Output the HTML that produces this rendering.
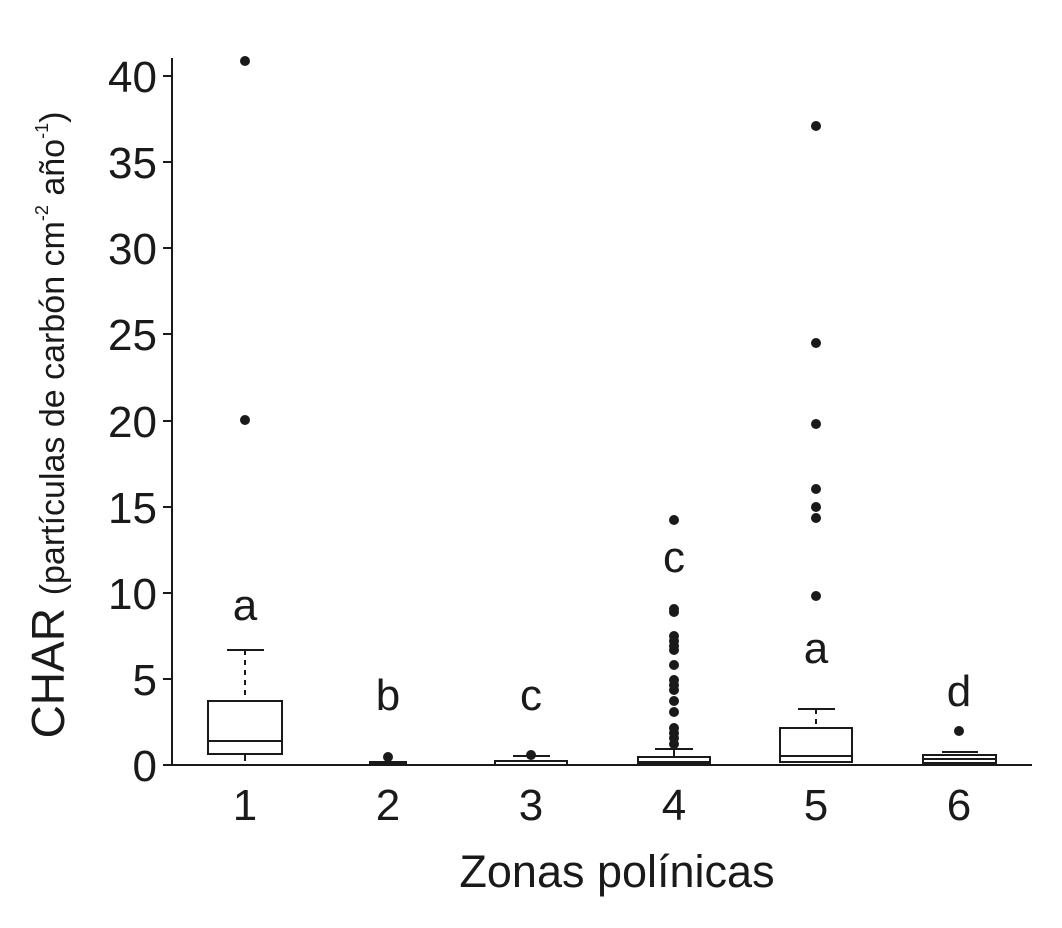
<!DOCTYPE html>
<html><head><meta charset="utf-8"><style>
body{margin:0;background:#fff}
svg text{font-family:"Liberation Sans",Arial,sans-serif;fill:#1a1a1a}
</style></head><body>
<svg width="1062" height="923" viewBox="0 0 1062 923" xmlns="http://www.w3.org/2000/svg">
<g stroke="#1a1a1a" stroke-width="2" fill="none">
<line x1="172" y1="58" x2="172" y2="765"/>
<line x1="163" y1="765" x2="1032" y2="765"/>
<line x1="163" y1="765" x2="172" y2="765"/>
<line x1="163" y1="679" x2="172" y2="679"/>
<line x1="163" y1="593" x2="172" y2="593"/>
<line x1="163" y1="507" x2="172" y2="507"/>
<line x1="163" y1="421" x2="172" y2="421"/>
<line x1="163" y1="334" x2="172" y2="334"/>
<line x1="163" y1="248" x2="172" y2="248"/>
<line x1="163" y1="162" x2="172" y2="162"/>
<line x1="163" y1="76" x2="172" y2="76"/>
<rect x="208" y="701" width="74" height="53"/>
<line x1="208" y1="741" x2="282" y2="741"/>
<line x1="245" y1="650" x2="245" y2="701" stroke-dasharray="5,5"/>
<line x1="245" y1="754" x2="245" y2="761" />
<line x1="227" y1="650" x2="264" y2="650"/>
<rect x="370" y="762" width="36" height="2"/>
<rect x="495" y="761" width="72" height="4"/>
<line x1="513" y1="756" x2="550" y2="756"/>
<rect x="638" y="757" width="72" height="7"/>
<line x1="638" y1="762" x2="710" y2="762"/>
<line x1="655" y1="749" x2="693" y2="749"/>
<line x1="674" y1="749" x2="674" y2="757"/>
<rect x="780" y="728" width="72" height="34"/>
<line x1="780" y1="756" x2="852" y2="756"/>
<line x1="816" y1="709" x2="816" y2="728" stroke-dasharray="5,5"/>
<line x1="798" y1="709" x2="835" y2="709"/>
<rect x="923" y="755" width="73" height="8"/>
<line x1="923" y1="759" x2="996" y2="759"/>
<line x1="942" y1="752" x2="978" y2="752"/>
</g>
<g fill="#1a1a1a">
<circle cx="245" cy="61" r="5"/><circle cx="245" cy="420" r="5"/>
<circle cx="388" cy="757" r="5"/>
<circle cx="531" cy="755" r="5"/>
<circle cx="674" cy="520" r="5"/><circle cx="674" cy="609" r="5"/><circle cx="674" cy="612" r="5"/>
<circle cx="674" cy="636" r="5"/><circle cx="674" cy="641" r="5"/><circle cx="674" cy="646" r="5"/><circle cx="674" cy="650" r="5"/>
<circle cx="674" cy="665" r="5"/><circle cx="674" cy="680" r="5"/><circle cx="674" cy="685" r="5"/><circle cx="674" cy="690" r="5"/>
<circle cx="674" cy="701" r="5"/><circle cx="674" cy="712" r="5"/><circle cx="674" cy="728" r="5"/><circle cx="674" cy="733" r="5"/><circle cx="674" cy="738" r="5"/><circle cx="674" cy="744" r="5"/>
<circle cx="816" cy="126" r="5"/><circle cx="816" cy="343" r="5"/><circle cx="816" cy="424" r="5"/><circle cx="816" cy="489" r="5"/><circle cx="816" cy="507" r="5"/><circle cx="816" cy="518" r="5"/><circle cx="816" cy="596" r="5"/>
<circle cx="959" cy="731" r="5"/>
</g>
<g font-size="44" text-anchor="end">
<text x="157" y="781">0</text><text x="157" y="695">5</text><text x="157" y="609">10</text>
<text x="157" y="523">15</text><text x="157" y="437">20</text><text x="157" y="350">25</text>
<text x="157" y="264">30</text><text x="157" y="178">35</text><text x="157" y="92">40</text>
</g>
<g font-size="44" text-anchor="middle">
<text x="245" y="820">1</text><text x="388" y="820">2</text><text x="531" y="820">3</text>
<text x="674" y="820">4</text><text x="816" y="820">5</text><text x="959" y="820">6</text>
<text x="245" y="620">a</text><text x="388" y="710">b</text><text x="531" y="710">c</text>
<text x="674" y="572">c</text><text x="816" y="663">a</text><text x="959" y="706">d</text>
<text x="617" y="887" font-size="45">Zonas polínicas</text>
</g>
<text transform="translate(64,425) rotate(-90)" text-anchor="middle" font-size="46">CHAR <tspan font-size="34">(partículas de carbón cm</tspan><tspan font-size="18" dy="-16">-2</tspan><tspan font-size="34" dy="16"> año</tspan><tspan font-size="18" dy="-16">-1</tspan><tspan font-size="34" dy="16">)</tspan></text>
</svg>
</body></html>
